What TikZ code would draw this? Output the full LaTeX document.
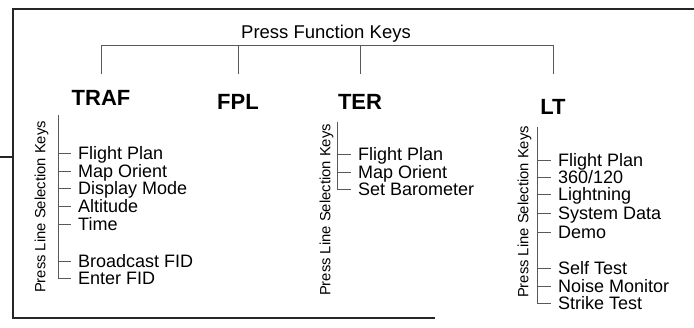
\documentclass[tikz,border=0pt]{standalone}
\usepackage{fontspec}
\setmainfont{Liberation Sans}
\usetikzlibrary{positioning}
\begin{document}
\begin{tikzpicture}[x=1pt,y=-1pt,
  item/.style={anchor=west,inner sep=0pt,font=\fontsize{18}{18}\selectfont,text height=12.9pt,text depth=0pt},
  keyname/.style={inner sep=0pt,font=\fontsize{22}{22}\selectfont\bfseries,text height=15.8pt,text depth=0pt},
  sidenote/.style={rotate=90,inner sep=0pt,font=\fontsize{14.8}{14.8}\selectfont,text height=10.6pt,text depth=0pt},
  link/.style={draw=black!65,line width=0.6pt},
  tick/.style={link,shorten >=7pt},
  frameline/.style={draw=black!85,line width=1.3pt}]
\useasboundingbox (0,0) rectangle (694,328);
% frame
\coordinate (stub) at (0,157);
\draw[frameline] (694,9) -- (13,9) -- (13,318) -- (435,318);
\draw[frameline] (stub) -- (stub -| 13,0);
% function keys
\node[inner sep=0pt,font=\fontsize{18.5}{18.5}\selectfont,text height=13.3pt,text depth=0pt] (head) at (326,32) {Press Function Keys};
\node[keyname] (traf) at (101,98)  {TRAF};
\node[keyname] (fpl)  at (238,102) {FPL};
\node[keyname] (ter)  at (360,102) {TER};
\node[keyname] (lt)   at (553,107) {LT};
\coordinate (bus) at (0,45);
\coordinate (drop) at (0,74);
\draw[link] (traf |- drop) -- (traf |- bus) -- (lt |- bus) -- (lt |- drop);
\draw[link] (fpl |- bus) -- (fpl |- drop);
\draw[link] (ter |- bus) -- (ter |- drop);
% TRAF line keys
\node[sidenote] (trafside) at (40,207) {Press Line Selection Keys};
\coordinate (trafspine) at (58,115);
\foreach \i/\t/\y in {1/Flight Plan/153,2/Map Orient/171,3/Display Mode/188,4/Altitude/206,5/Time/224,6/Broadcast FID/261,7/Enter FID/278} {
  \node[item] (traf\i) at (78,\y) {\t};
  \draw[tick] (trafspine |- traf\i.west) -- (traf\i.west);
}
\draw[link] (trafspine) -- (trafspine |- traf7.west);
% TER line keys
\node[sidenote] (terside) at (325,210) {Press Line Selection Keys};
\coordinate (terspine) at (337,122);
\foreach \i/\t/\y in {1/Flight Plan/154,2/Map Orient/172,3/Set Barometer/189} {
  \node[item] (ter\i) at (358,\y) {\t};
  \draw[tick] (terspine |- ter\i.west) -- (ter\i.west);
}
\draw[link] (terspine) -- (terspine |- ter3.west);
% LT line keys
\node[sidenote] (ltside) at (523,212) {Press Line Selection Keys};
\coordinate (ltspine) at (537,127);
\foreach \i/\t/\y in {1/Flight Plan/160,2/{360/120}/177,3/Lightning/194,4/System Data/213,5/Demo/232,6/Self Test/268,7/Noise Monitor/286,8/Strike Test/303} {
  \node[item] (lt\i) at (558,\y) {\t};
  \draw[tick] (ltspine |- lt\i.west) -- (lt\i.west);
}
\draw[link] (ltspine) -- (ltspine |- lt8.west);
\end{tikzpicture}
\end{document}
